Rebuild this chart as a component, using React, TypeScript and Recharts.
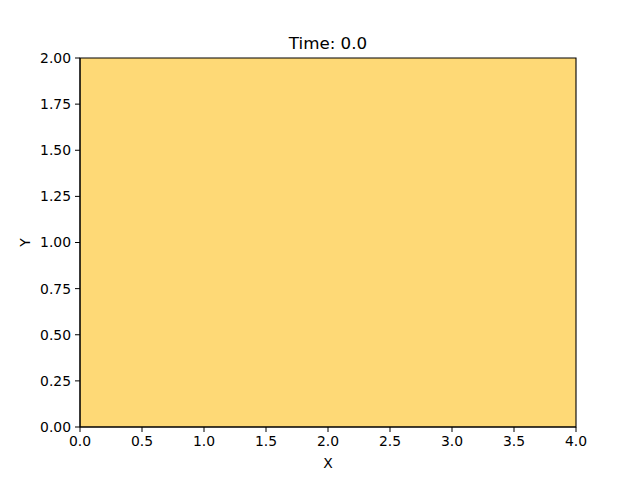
import { ComposedChart, Area, XAxis, YAxis, Label, ReferenceArea } from "recharts"

// Grid edges of the field and its (uniform) height
const xEdges = [0, 4]
const yTop = [2, 2]

// Tick labels
const xTicks = [0, 0.5, 1, 1.5, 2, 2.5, 3, 3.5, 4]
const yTicks = [0, 0.25, 0.5, 0.75, 1, 1.25, 1.5, 1.75, 2]

const FIELD_COLOR = "#fed976"
const FONT = "DejaVu Sans, sans-serif"

const data = xEdges.map((x, i) => ({ x, y: yTop[i] }))

export default function App() {
  const tickStyle = { fill: "#000", fontSize: 13.9, fontFamily: FONT }
  return (
    <div style={{ position: "absolute", left: 0, top: 0, width: 640, height: 480, background: "#fff" }}>
      <div
        style={{
          position: "absolute",
          left: 80,
          width: 496,
          top: 33,
          textAlign: "center",
          fontFamily: FONT,
          fontSize: 16.7,
          lineHeight: "20px",
          color: "#000",
        }}
      >
        Time: 0.0
      </div>
      <ComposedChart width={640} height={480} data={data} margin={{ top: 58, right: 64, bottom: 0, left: 0 }}>
        <XAxis
          dataKey="x"
          type="number"
          domain={[0, 4]}
          ticks={xTicks}
          allowDataOverflow
          tickFormatter={(v: number) => v.toFixed(1)}
          height={53}
          tickSize={5}
          tickMargin={4}
          axisLine={{ stroke: "#000" }}
          tickLine={{ stroke: "#000" }}
          tick={tickStyle}
        >
          <Label value="X" position="insideBottom" offset={12} style={{ fill: "#000", fontSize: 13.9, fontFamily: FONT }} />
        </XAxis>
        <YAxis
          type="number"
          domain={[0, 2]}
          ticks={yTicks}
          allowDataOverflow
          tickFormatter={(v: number) => v.toFixed(2)}
          width={80}
          tickSize={5}
          tickMargin={4}
          axisLine={{ stroke: "#000" }}
          tickLine={{ stroke: "#000" }}
          tick={tickStyle}
        >
          <Label value="Y" angle={-90} position="insideLeft" offset={25} style={{ fill: "#000", fontSize: 13.9, fontFamily: FONT, textAnchor: "middle" }} />
        </YAxis>
        <Area
          type="linear"
          dataKey="y"
          baseValue={0}
          fill={FIELD_COLOR}
          fillOpacity={1}
          stroke="none"
          dot={false}
          activeDot={false}
          isAnimationActive={false}
        />
        <ReferenceArea x1={0} x2={4} y1={0} y2={2} fill="none" fillOpacity={0} stroke="#000" strokeWidth={1.1} ifOverflow="visible" />
      </ComposedChart>
    </div>
  )
}
